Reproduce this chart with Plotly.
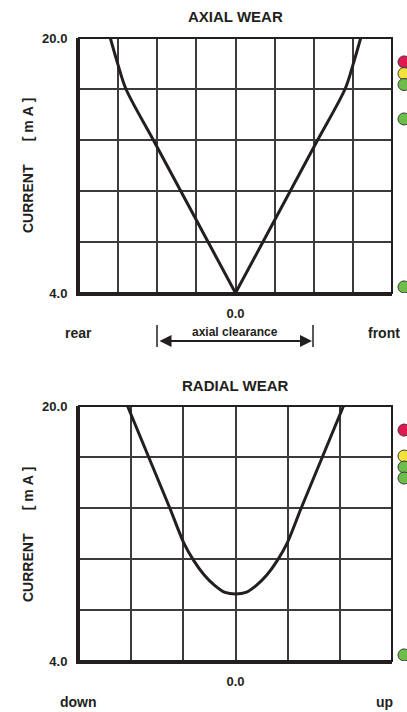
import plotly.graph_objects as go
from plotly.subplots import make_subplots

# ---------------- data ----------------
# AXIAL WEAR curve (x in grid units, y in mA), drawn as two branches from the vertex
axial_left_x = [0.0, -0.7, -1.4, -2.1, -2.8, -3.0, -3.2]
axial_left_y = [4.0, 7.2, 10.4, 13.6, 16.8, 18.3, 20.0]
axial_right_x = [0.0, 0.7, 1.4, 2.1, 2.8, 3.0, 3.2]
axial_right_y = [4.0, 7.2, 10.4, 13.6, 16.8, 18.3, 20.0]

# RADIAL WEAR curve
radial_x = [-2.07, -1.665, -1.26, -0.99, -0.8, -0.6, -0.4, -0.2, 0.0, 0.2, 0.4, 0.6, 0.8, 0.99, 1.26, 1.665, 2.07]
radial_y = [20.0, 16.8, 13.6, 11.4, 10.3, 9.4, 8.75, 8.3, 8.2, 8.3, 8.75, 9.4, 10.3, 11.4, 13.6, 16.8, 20.0]

# indicator lamps (levels in mA)
lamp_colors = ["#e3174f", "#f2e33b", "#6cbd4a", "#6cbd4a", "#6cbd4a"]
axial_lamp_levels = [18.5, 17.77, 17.08, 14.92, 4.38]
radial_lamp_levels = [18.49, 16.86, 16.17, 15.48, 4.38]

y_ticks = [4.0, 7.2, 10.4, 13.6, 16.8, 20.0]
y_ticktext = ["4.0", "", "", "", "", "20.0"]
axial_xticks = [-4, -3, -2, -1, 0, 1, 2, 3, 4]
radial_xticks = [-3, -2, -1, 0, 1, 2, 3]

# ---------------- figure ----------------
INK = "#231f20"
GRID = "#3c3a3b"
FONT = "Liberation Sans, Arial, sans-serif"

fig = make_subplots(rows=2, cols=1, vertical_spacing=0.0)

for bx, by in ((axial_left_x, axial_left_y), (axial_right_x, axial_right_y)):
    fig.add_trace(go.Scatter(x=bx, y=by, mode="lines",
                             line=dict(color=INK, width=3, shape="spline", smoothing=0.9),
                             hoverinfo="skip", showlegend=False), row=1, col=1)
fig.add_trace(go.Scatter(x=radial_x, y=radial_y, mode="lines",
                         line=dict(color=INK, width=3, shape="spline", smoothing=0.8),
                         hoverinfo="skip", showlegend=False), row=2, col=1)

top_dom = [0.5907, 1.0]
bot_dom = [0.0, 0.4093]

common_y = dict(range=[4, 20], tickvals=y_ticks, ticktext=y_ticktext, showgrid=True, gridcolor=GRID, gridwidth=1.5,
                showline=True, linecolor=INK, linewidth=3, ticks="", ticklabelstandoff=6,
                tickfont=dict(family=FONT, size=13, color=INK, weight="bold"), zeroline=False, fixedrange=True)
fig.update_yaxes(**common_y)
fig.update_yaxes(domain=top_dom, row=1, col=1)
fig.update_yaxes(domain=bot_dom, row=2, col=1)

common_x = dict(showgrid=True, gridcolor=GRID, gridwidth=1.5, showline=True, linecolor=INK, linewidth=3,
                ticks="", ticklabelstandoff=6, tickfont=dict(family=FONT, size=13, color=INK, weight="bold"),
                zeroline=False, fixedrange=True)
fig.update_xaxes(**common_x)
fig.update_xaxes(range=[-4, 4], tickvals=axial_xticks,
                 ticktext=["" if v != 0 else "0.0" for v in axial_xticks], row=1, col=1)
fig.update_xaxes(range=[-3, 3], tickvals=radial_xticks,
                 ticktext=["" if v != 0 else "0.0" for v in radial_xticks], row=2, col=1)

# frames
for xr, yr in (("x domain", "y domain"), ("x2 domain", "y2 domain")):
    fig.add_shape(type="rect", xref=xr, yref=yr, x0=0, x1=1, y0=0, y1=1, line=dict(color=INK, width=2))

# positions given in reference-picture pixels -> paper fractions
def px_x(p):
    return (p - 79) / 313.0

def px_y(p):
    return (661 - p) / 623.0

# indicator lamps: circles placed on the y scale of each chart, just right of the frame
for yref, levels in (("y", axial_lamp_levels), ("y2", radial_lamp_levels)):
    for lvl, col in zip(levels, lamp_colors):
        fig.add_shape(type="circle", xref="paper", yref=yref, xsizemode="pixel", ysizemode="pixel",
                      xanchor=px_x(404), yanchor=lvl, x0=-6, x1=6, y0=-6, y1=6,
                      fillcolor=col, line=dict(color="#3a3a3a", width=1), layer="above")

ann = []
for t, yc in (("AXIAL WEAR", 17), ("RADIAL WEAR", 385)):
    ann.append(dict(text=t, x=px_x(235), y=px_y(yc), xref="paper", yref="paper", showarrow=False,
                    font=dict(family=FONT, size=15, color=INK, weight="bold"), xanchor="center", yanchor="middle"))
ylab = "CURRENT" + "\u00a0" * 6 + "[\u00a0m\u00a0A\u00a0]"
for yc in (166, 535):
    ann.append(dict(text=ylab, x=px_x(28), y=px_y(yc),
                    xref="paper", yref="paper", showarrow=False, textangle=-90,
                    font=dict(family=FONT, size=14, color=INK, weight="bold"),
                    xanchor="center", yanchor="middle"))
for t, xc, yc in (("rear", 78, 333), ("front", 384, 333), ("down", 78, 702), ("up", 384, 702)):
    ann.append(dict(text=t, x=px_x(xc), y=px_y(yc), xref="paper", yref="paper", showarrow=False,
                    font=dict(family=FONT, size=14, color=INK, weight="bold"), xanchor="center", yanchor="middle"))
ann.append(dict(text="axial clearance", x=px_x(235), y=px_y(332), xref="paper", yref="paper", showarrow=False,
                font=dict(family=FONT, size=12, color=INK, weight="bold"), xanchor="center", yanchor="middle"))
ann.append(dict(text="", x=px_x(312), y=px_y(341), xref="paper", yref="paper", ax=-154, ay=0,
                showarrow=True, arrowhead=2, arrowside="end+start", arrowsize=1.2, arrowwidth=2, arrowcolor=INK))
fig.update_layout(annotations=ann)

for xp in (157, 313):
    fig.add_shape(type="line", xref="paper", yref="paper", x0=px_x(xp), x1=px_x(xp), y0=px_y(325), y1=px_y(347),
                  line=dict(color=INK, width=1.5))

fig.update_layout(width=407, height=712, margin=dict(l=79, r=15, t=38, b=51),
                  paper_bgcolor="white", plot_bgcolor="white", showlegend=False)

# let the figure fill the window exactly (no page margin, no scrollbars, no mode bar)
fig.write_html("out.html", config={"displayModeBar": False},
               post_script="document.body.style.margin='0';document.documentElement.style.overflow='hidden';")
